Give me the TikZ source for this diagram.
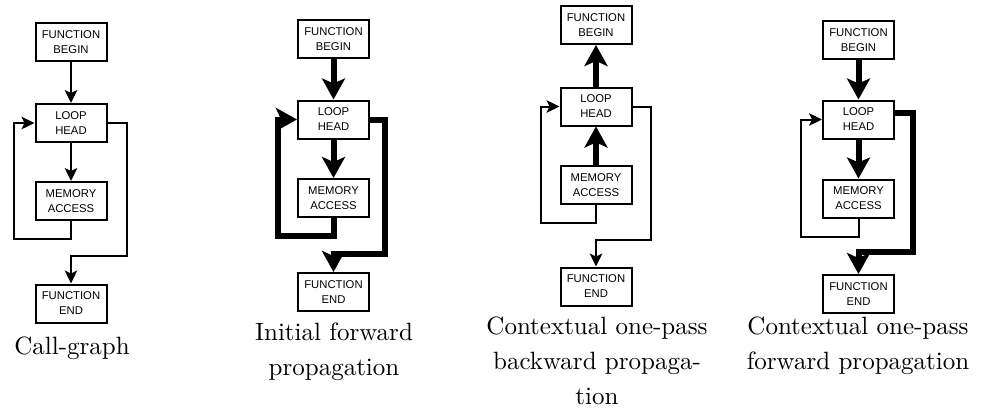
\documentclass[tikz,border=0pt]{standalone}
\usepackage{fontspec}
\newfontfamily\boxfont{Liberation Sans}
\usetikzlibrary{arrows.meta}
\begin{document}
\begin{tikzpicture}[x=1pt,y=1pt,
  box/.style={draw, line width=2pt, minimum width=71pt, minimum height=38pt, inner sep=0pt, align=center, font=\boxfont\fontsize{11.3}{15}\selectfont},
  lnthin/.style={line width=2pt, -{Stealth[length=13pt,width=12.5pt,inset=3pt]}},
  lnthick/.style={line width=6pt, -{Stealth[length=21pt,width=23pt,inset=5pt]}},
  captext/.style={anchor=north, align=center, scale=2.5, transform shape, font=\fontsize{10}{14}\selectfont, inner sep=0pt}
]
\fill[white] (0,0) rectangle (982,-408);
\useasboundingbox (0,0) rectangle (982,-408);

% Panel 1
\node[box] (b1) at (71,-42) {FUNCTION\\BEGIN};
\node[box] (h1) at (71,-123) {LOOP\\HEAD};
\node[box] (m1) at (71,-201) {MEMORY\\ACCESS};
\node[box] (e1) at (71,-303.5) {FUNCTION\\END};
\coordinate (la1) at (14,-239);
\coordinate (ra1) at (127,-256);
\draw[lnthin] (b1.south) -- (h1.north);
\draw[lnthin] (h1.south) -- (m1.north);
\draw[lnthin] (m1.south) |- (la1) |- (h1.west);
\draw[lnthin] (h1.east) -| (ra1) -| (e1.north);
\node[captext] (c1) at (72,-336.6) {Call-graph};

% Panel 2
\node[box] (b2) at (333.5,-39) {FUNCTION\\BEGIN};
\node[box] (h2) at (333.5,-119.5) {LOOP\\HEAD};
\node[box] (m2) at (333.5,-198) {MEMORY\\ACCESS};
\node[box] (e2) at (333.5,-292) {FUNCTION\\END};
\coordinate (la2) at (277.5,-236);
\coordinate (ra2) at (385,-253.5);
\draw[lnthick] (b2.south) -- (h2.north);
\draw[lnthick] (h2.south) -- (m2.north);
\draw[lnthick] (m2.south) |- (la2) |- (h2.west);
\draw[lnthick] (h2.east) -| (ra2) -| (e2.north);
\node[captext] (c2) at (334,-322.6) {Initial forward\\propagation};

% Panel 3
\node[box] (b3) at (596,-25) {FUNCTION\\BEGIN};
\node[box] (h3) at (596,-106.5) {LOOP\\HEAD};
\node[box] (m3) at (596,-185) {MEMORY\\ACCESS};
\node[box] (e3) at (596,-286.5) {FUNCTION\\END};
\coordinate (la3) at (541,-223);
\coordinate (ra3) at (651,-240);
\draw[lnthick] (h3.north) -- (b3.south);
\draw[lnthick] (m3.north) -- (h3.south);
\draw[lnthin] (m3.south) |- (la3) |- (h3.west);
\draw[lnthin] (h3.east) -| (ra3) -| (e3.north);
\node[captext] (c3) at (597,-316.6) {Contextual one-pass\\backward propaga-\\tion};

% Panel 4
\node[box] (b4) at (858.5,-40) {FUNCTION\\BEGIN};
\node[box] (h4) at (858.5,-119.5) {LOOP\\HEAD};
\node[box] (m4) at (858.5,-198.5) {MEMORY\\ACCESS};
\node[box] (e4) at (858.5,-294) {FUNCTION\\END};
\coordinate (la4) at (801,-237);
\coordinate (ra4) at (913,-252);
\draw[lnthick] (b4.south) -- (h4.north);
\draw[lnthick] (h4.south) -- (m4.north);
\draw[lnthin] (m4.south) |- (la4) |- (h4.west);
\draw[lnthick] ([yshift=6.5pt]h4.east) -| (ra4) -| (e4.north);
\node[captext] (c4) at (858,-316.6) {Contextual one-pass\\forward propagation};
\end{tikzpicture}
\end{document}
